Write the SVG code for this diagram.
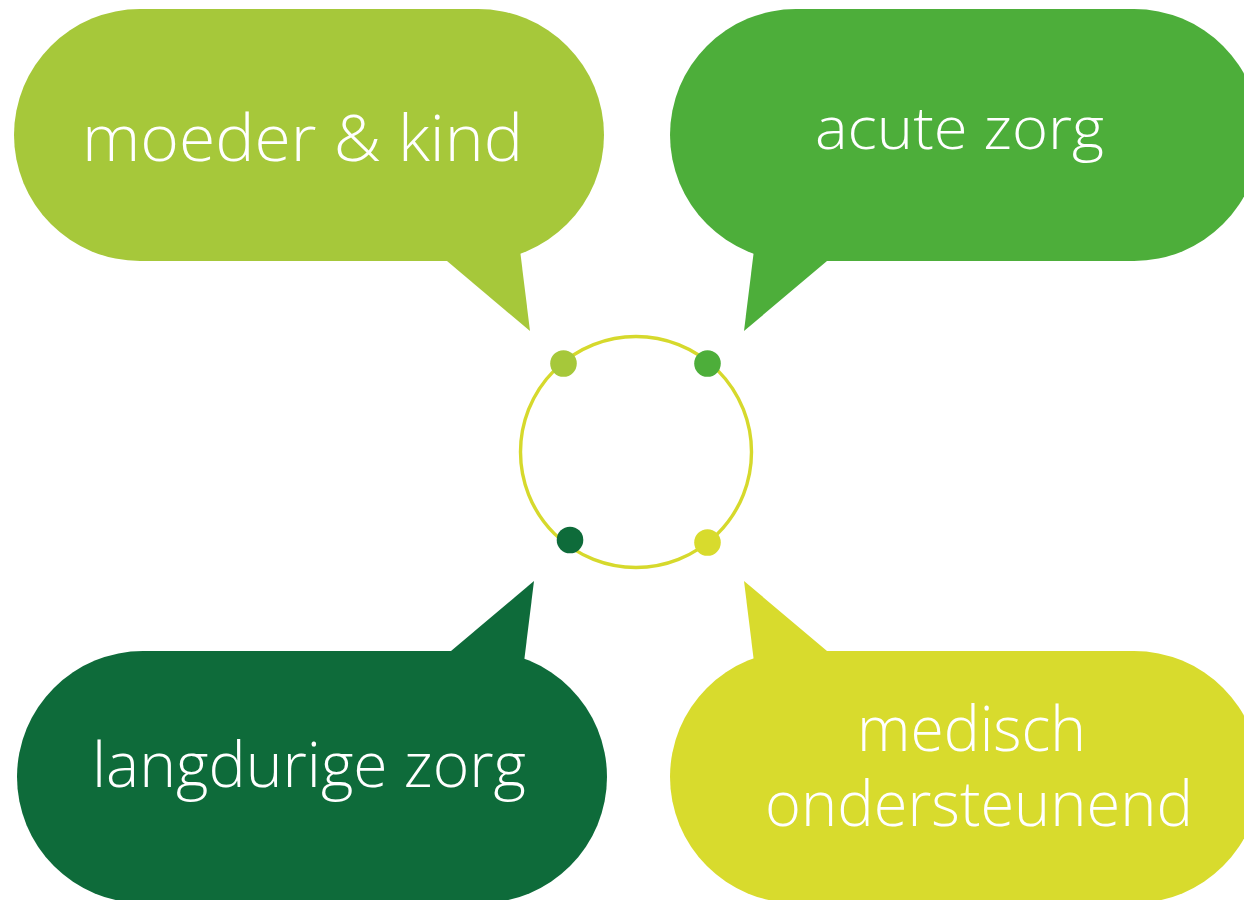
<svg xmlns="http://www.w3.org/2000/svg" width="1244" height="900" viewBox="0 0 1244 900">
  <style>
    .lbl { fill: #ffffff; font-family: "Open Sans", "Noto Sans", "Liberation Sans", sans-serif; font-weight: 350; }
    .c1 { fill: #a6c83a; }
    .c2 { fill: #4dae3a; }
    .c3 { fill: #0e6b3a; }
    .c4 { fill: #d8db2d; }
  </style>
  <rect x="0" y="0" width="1244" height="900" fill="#ffffff"/>

  <g id="connectors"></g>

  <g id="node-moeder-kind">
    <rect class="c1" x="14" y="9" width="590" height="252" rx="126" ry="126"/>
    <polygon class="c1" points="447,250 447,261 530,331 520,250"/>
    <text class="lbl" x="82" y="161" font-size="65" textLength="441" lengthAdjust="spacingAndGlyphs">moeder &amp; kind</text>
  </g>

  <g id="node-acute-zorg">
    <rect class="c2" x="670" y="9" width="590" height="252" rx="126" ry="126"/>
    <polygon class="c2" points="827,250 827,261 744,331 754,250"/>
    <text class="lbl" x="815" y="149" font-size="58" textLength="289" lengthAdjust="spacingAndGlyphs">acute zorg</text>
  </g>

  <g id="node-langdurige-zorg">
    <rect class="c3" x="17" y="651" width="590" height="252" rx="126" ry="126"/>
    <polygon class="c3" points="451,662 451,651 534,581 524,662"/>
    <text class="lbl" x="92" y="787" font-size="62" textLength="434" lengthAdjust="spacingAndGlyphs">langdurige zorg</text>
  </g>

  <g id="node-medisch-ondersteunend">
    <rect class="c4" x="670" y="651" width="590" height="252" rx="126" ry="126"/>
    <polygon class="c4" points="827,662 827,651 744,581 754,662"/>
    <text class="lbl" x="857" y="751" font-size="62" textLength="229" lengthAdjust="spacingAndGlyphs">medisch</text>
    <text class="lbl" x="765" y="826" font-size="62" textLength="428" lengthAdjust="spacingAndGlyphs">ondersteunend</text>
  </g>

  <g id="node-hub">
    <circle cx="636" cy="452" r="115.5" fill="none" stroke="#d6d92c" stroke-width="3.4"/>
    <circle class="c1" cx="563.5" cy="363.5" r="13.3"/>
    <circle class="c2" cx="707.5" cy="363.5" r="13.3"/>
    <circle class="c3" cx="570" cy="540" r="13.3"/>
    <circle class="c4" cx="707.5" cy="542.5" r="13.3"/>
  </g>
</svg>
